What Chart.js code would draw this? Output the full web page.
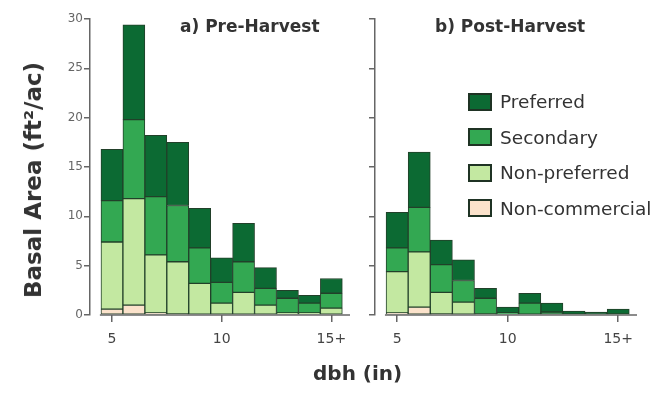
<!DOCTYPE html>
<html>
<head>
<meta charset="utf-8">
<script src="https://cdn.jsdelivr.net/npm/chart.js@4"></script>
<style>
  html, body { margin: 0; padding: 0; background: #fff; }
  #wrap { position: relative; width: 662px; height: 394px; overflow: hidden; font-family: "DejaVu Sans", sans-serif; }
  canvas { position: absolute; top: 0; }
  #c-pre { left: 0; }
  #c-post { left: 360px; }
  .panel-title { position: absolute; top: 16px; font-weight: bold; font-size: 17px; color: #333; white-space: nowrap; }
  #xlabel { position: absolute; top: 361px; left: 313px; font-weight: bold; font-size: 20px; color: #333; }
  #ylabel { position: absolute; left: 33px; top: 180px; width: 0; height: 0; }
  #ylabel span { position: absolute; left: 0; top: 0; transform: translate(-50%, -50%) rotate(-90deg);
    font-weight: bold; font-size: 23px; color: #333; white-space: nowrap; }
  #legend { position: absolute; left: 468px; top: 84px; }
  .lg-row { display: flex; align-items: center; height: 35.5px; }
  .lg-box { width: 20px; height: 14px; border: 2px solid #1f3324; margin-right: 8px; }
  .lg-text { font-size: 18.5px; color: #333; white-space: nowrap; }
</style>
</head>
<body>
<div id="wrap">
  <canvas id="c-pre" width="360" height="394"></canvas>
  <canvas id="c-post" width="302" height="394"></canvas>
  <div class="panel-title" style="left:180px">a) Pre-Harvest</div>
  <div class="panel-title" style="left:435px">b) Post-Harvest</div>
  <div id="xlabel">dbh (in)</div>
  <div id="ylabel"><span>Basal Area (ft²/ac)</span></div>
  <div id="legend"></div>
</div>
<script>
  // dbh classes (in); 15 = "15+"
  const dbhClasses = [5, 6, 7, 8, 9, 10, 11, 12, 13, 14, 15];
  const xTicks = [5, 10, 15];

  // series, stacked bottom -> top (segment heights, ft2/ac)
  const seriesNames = ['Non-commercial', 'Non-preferred', 'Secondary', 'Preferred'];
  const seriesColors = ['#fbe2cb', '#c3e8a1', '#33a852', '#0c6a33'];

  const preNonCommercial = [0.6, 1.0, 0.2, 0.1, 0, 0, 0, 0, 0, 0, 0];
  const preNonPreferred  = [6.8, 10.8, 5.9, 5.3, 3.2, 1.2, 2.3, 1.0, 0.2, 0.2, 0.7];
  const preSecondary     = [4.2, 8.0, 5.9, 5.7, 3.6, 2.1, 3.1, 1.7, 1.5, 1.0, 1.5];
  const prePreferred     = [5.2, 9.6, 6.2, 6.4, 4.0, 2.5, 3.9, 2.1, 0.8, 0.8, 1.5];

  const postNonCommercial = [0.2, 0.8, 0.1, 0, 0, 0, 0, 0, 0, 0, 0];
  const postNonPreferred  = [4.2, 5.6, 2.2, 1.3, 0.1, 0, 0, 0, 0, 0, 0];
  const postSecondary     = [2.4, 4.5, 2.8, 2.2, 1.6, 0.2, 1.2, 0.3, 0, 0, 0.1];
  const postPreferred     = [3.6, 5.6, 2.5, 2.1, 1.0, 0.6, 1.0, 0.9, 0.4, 0.3, 0.5];

  const yTickStep = 5;
  const yMax = 30;

  const AXIS = '#666';

  // x 축선은 첫 막대 바로 앞에서 시작 (y 축과 떨어져 있음)
  const xAxisLine = {
    id: 'xAxisLine',
    afterDraw(chart) {
      const xs = chart.scales.x, a = chart.chartArea, c = chart.ctx;
      c.save();
      c.strokeStyle = AXIS;
      c.lineWidth = 1.5;
      c.beginPath();
      c.moveTo(xs.getPixelForValue(4.45), a.bottom);
      c.lineTo(a.right, a.bottom);
      c.stroke();
      c.restore();
    }
  };

  function makeDatasets(cols) {
    return cols.map((vals, i) => ({
      label: seriesNames[i],
      data: dbhClasses.map((d, k) => ({ x: d, y: vals[k] })),
      backgroundColor: seriesColors[i],
      borderColor: '#22402a',
      borderWidth: 1,
      borderSkipped: false,
      barPercentage: 1,
      categoryPercentage: 1
    }));
  }

  function makeChart(id, cols, showY, pad) {
    return new Chart(document.getElementById(id), {
      type: 'bar',
      data: { datasets: makeDatasets(cols) },
      plugins: [xAxisLine],
      options: {
        responsive: false,
        animation: false,
        layout: { padding: pad },
        plugins: { legend: { display: false }, tooltip: { enabled: false } },
        scales: {
          x: {
            type: 'linear',
            stacked: true,
            offset: false,
            min: 4.0,
            max: 15.85,
            afterBuildTicks: s => { s.ticks = xTicks.map(v => ({ value: v })); },
            afterFit: s => { s.height = 394 - 315; },
            border: { display: false },
            grid: { offset: false, drawOnChartArea: false, drawTicks: true, tickLength: 7, tickColor: AXIS, lineWidth: 1.5 },
            ticks: {
              padding: 9,
              color: '#444',
              font: { family: 'DejaVu Sans', size: 14 },
              callback: v => (v === 15 ? '15+' : String(v))
            }
          },
          y: {
            stacked: true,
            min: 0,
            max: yMax,
            afterFit: s => { s.width = showY ? 90 : 15; },
            border: { display: true, color: AXIS, width: 1.5 },
            grid: { drawOnChartArea: false, drawTicks: true, tickLength: 6, tickColor: AXIS, lineWidth: 1.5 },
            ticks: {
              stepSize: yTickStep,
              padding: 1,
              color: '#666',
              font: { family: 'DejaVu Sans', size: 12 },
              callback: v => (showY ? String(v) : '')
            }
          }
        }
      }
    });
  }

  makeChart('c-pre', [preNonCommercial, preNonPreferred, preSecondary, prePreferred], true,
    { left: 0, top: 19, right: 10, bottom: 0 });
  makeChart('c-post', [postNonCommercial, postNonPreferred, postSecondary, postPreferred], false,
    { left: 0, top: 19, right: 25, bottom: 0 });

  // 범례: 위에서부터 Preferred -> Non-commercial
  const legend = document.getElementById('legend');
  for (let i = seriesNames.length - 1; i >= 0; i--) {
    const row = document.createElement('div');
    row.className = 'lg-row';
    row.innerHTML = '<div class="lg-box" style="background:' + seriesColors[i] + '"></div>' +
      '<div class="lg-text">' + seriesNames[i] + '</div>';
    legend.appendChild(row);
  }
</script>
</body>
</html>
